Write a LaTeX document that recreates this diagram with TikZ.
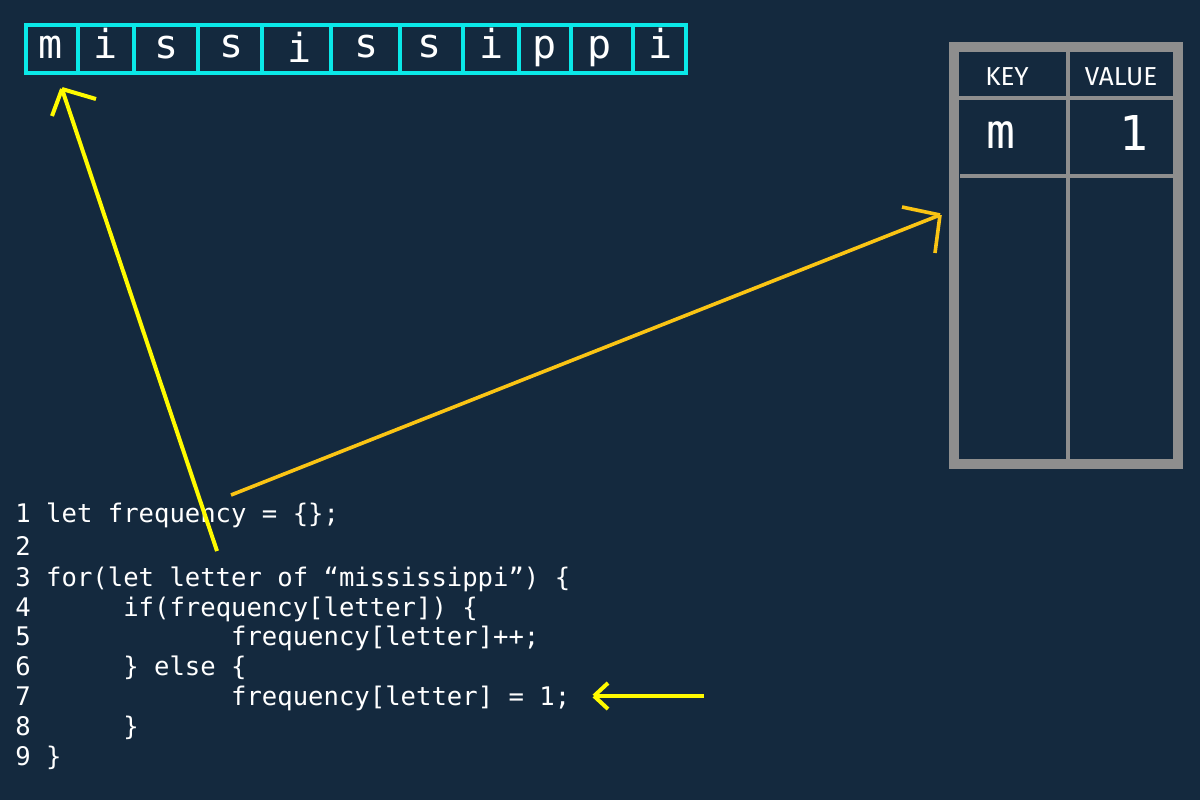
\documentclass[tikz,border=0pt]{standalone}
\usepackage{fontspec}
\setmonofont{DejaVu Sans Mono}
\newfontfamily\tabfont{Fira Sans}
\definecolor{bgc}{RGB}{20,41,62}
\definecolor{cyanc}{RGB}{10,232,232}
\definecolor{grayc}{RGB}{142,142,142}
\definecolor{yelc}{RGB}{255,250,0}
\definecolor{orac}{RGB}{250,196,20}
\begin{document}
\begin{tikzpicture}[x=0.5pt,y=-0.5pt,
  cellline/.style={draw=cyanc,line width=2pt},
  arrletter/.style={anchor=base,inner sep=0pt,text=white,font=\ttfamily\fontsize{20}{24}\selectfont},
  codeline/.style={anchor=base west,inner sep=0pt,text=white,font=\ttfamily\fontsize{12.8}{15}\selectfont},
  tabline/.style={draw=grayc,line width=2pt},
  tabhead/.style={anchor=base,inner sep=0pt,text=white,font=\tabfont\fontsize{13}{15}\selectfont},
  tabval/.style={anchor=base,inner sep=0pt,text=white,font=\ttfamily\fontsize{24}{28}\selectfont},
  yarrow/.style={draw=yelc,line width=2pt},
  oarrow/.style={draw=orac,line width=1.8pt}]
\useasboundingbox (0,0) rectangle (1200,800);
\fill[bgc] (0,0) rectangle (1200,800);
% array of letters
\foreach \a/\b in {26/78,78/134,134/198,198/262,262/331,331/400,400/463,463/519,519/571,571/633,633/686}
  \draw[cellline] (\a,25) rectangle (\b,73);
\node[arrletter] (l1) at (51,58) {m};
\node[arrletter] (l2) at (106,58) {i};
\node[arrletter] (l3) at (167,58) {s};
\node[arrletter] (l4) at (232,57) {s};
\node[arrletter] (l5) at (300,62) {i};
\node[arrletter] (l6) at (367,57) {s};
\node[arrletter] (l7) at (430,57) {s};
\node[arrletter] (l8) at (492,58) {i};
\node[arrletter] (l9) at (545,58) {p};
\node[arrletter] (l10) at (600,58) {p};
\node[arrletter] (l11) at (661,58) {i};
% table
\draw[draw=grayc,line width=5pt] (954,47) rectangle (1178,464);
\draw[tabline] (1068,52) -- (1068,459);
\draw[tabline] (959,98) -- (1173,98);
\draw[tabline] (960,176) -- (1173,176);
\node[tabhead] (hkey) at (1007,85) {KEY};
\node[tabhead] (hval) at (1121,85) {VALUE};
\node[tabval] (vkey) at (1001,148) {m};
\node[tabval] (vval) at (1134,150) {1};
% code
\node[codeline] (c1) at (15,522) {1 let frequency = \{\};};
\node[codeline] (c2) at (15,555) {2};
\node[codeline] (c3) at (15,586) {3 for(let letter of “mississippi”) \{};
\node[codeline] (c4) at (15,616) {4~~~~~~if(frequency[letter]) \{};
\node[codeline] (c5) at (15,645) {5~~~~~~~~~~~~~frequency[letter]++;};
\node[codeline] (c6) at (15,675) {6~~~~~~\} else \{};
\node[codeline] (c7) at (15,705) {7~~~~~~~~~~~~~frequency[letter] = 1;};
\node[codeline] (c8) at (15,735) {8~~~~~~\}};
\node[codeline] (c9) at (15,765) {9 \}};
% arrows
\coordinate (a1tail) at (217,551);
\coordinate (a1tip) at (62,89);
\draw[yarrow] (a1tail) -- (a1tip);
\draw[yarrow] (a1tip) -- ++(34,10);
\draw[yarrow] (a1tip) -- ++(-10,27);
\coordinate (a2tail) at (231,495);
\coordinate (a2tip) at (940,215);
\draw[oarrow] (a2tail) -- (a2tip);
\draw[oarrow] (a2tip) -- ++(-38,-8);
\draw[oarrow] (a2tip) -- ++(-5,38);
\coordinate (a3tail) at (704,696);
\coordinate (a3tip) at (594,696);
\draw[yarrow] (a3tail) -- (a3tip);
\draw[yarrow] (a3tip) -- ++(14,-13);
\draw[yarrow] (a3tip) -- ++(14,13);
\end{tikzpicture}
\end{document}
